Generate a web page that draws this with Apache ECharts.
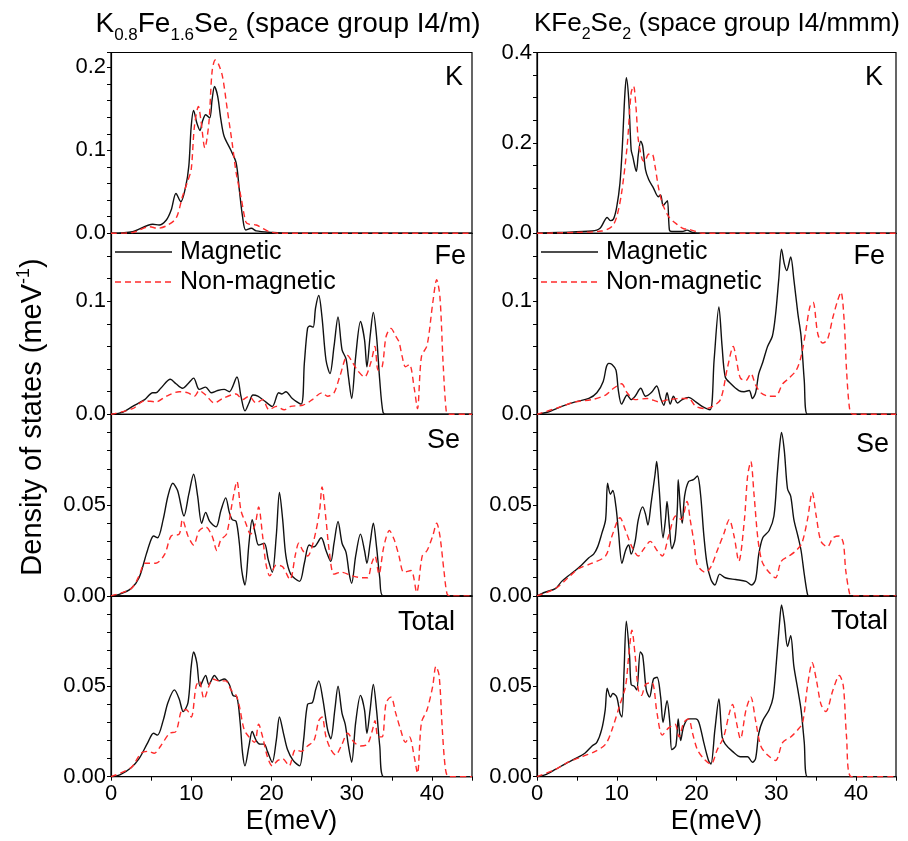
<!DOCTYPE html>
<html>
<head>
<meta charset="utf-8">
<script src="https://cdn.jsdelivr.net/npm/echarts@6/dist/echarts.min.js"></script>
<style>
  html, body { margin: 0; padding: 0; background: #fff; }
  #chart { width: 908px; height: 841px; }
</style>
</head>
<body>
<div id="chart"></div>
<script>
// Phonon density of states, magnetic vs non-magnetic, for two K-Fe-Se phases.
// Each series is a list of [E (meV), DOS (1/meV)] pairs.

// ---- K0.8Fe1.6Se2 (I4/m) ----
const leftKMag = [[0,0],[2.7,0.002],[5.2,0.011],[6.0,0.010],[6.9,0.016],[7.5,0.028],[8.1,0.048],[8.7,0.038],[9.3,0.056],[9.7,0.081],[10.0,0.129],[10.3,0.148],[10.7,0.133],[11.1,0.124],[11.4,0.135],[11.8,0.143],[12.3,0.139],[12.6,0.161],[12.9,0.177],[13.3,0.165],[13.7,0.137],[14.1,0.117],[14.9,0.101],[15.6,0.085],[16.0,0.052],[16.4,0.020],[16.8,0.004],[17.5,0.006],[18.1,0.003],[20.1,0.001],[21.8,0],[45,0]];
const leftKNon = [[0,0],[2.7,0.001],[4.8,0.008],[5.8,0.006],[6.9,0.009],[8.1,0.018],[8.9,0.044],[9.6,0.064],[10.0,0.077],[10.4,0.129],[10.9,0.153],[11.2,0.137],[11.7,0.103],[12.2,0.133],[12.6,0.195],[13.0,0.209],[13.4,0.204],[13.9,0.189],[14.5,0.149],[15.1,0.109],[15.6,0.073],[16.2,0.044],[16.8,0.014],[17.2,0.011],[18.1,0.010],[18.9,0.006],[19.7,0.002],[21.0,0],[45,0]];
const leftFeMag = [[0,0],[1.5,0.002],[2.7,0.007],[4.2,0.013],[5.2,0.019],[5.6,0.019],[6.2,0.023],[7.4,0.031],[8.1,0.027],[8.9,0.023],[9.6,0.027],[10.3,0.032],[11.0,0.022],[11.8,0.024],[12.5,0.019],[13.3,0.021],[14.1,0.022],[14.75,0.020],[15.7,0.033],[16.2,0.016],[16.7,0.003],[17.2,0.010],[17.7,0.017],[18.3,0.016],[19.1,0.012],[20.1,0.007],[20.9,0.019],[21.3,0.018],[21.8,0.020],[22.6,0.014],[23.7,0.009],[24.1,0.045],[24.5,0.076],[24.8,0.078],[25.2,0.077],[25.5,0.094],[25.9,0.105],[26.3,0.086],[26.8,0.048],[27.3,0.036],[27.8,0.060],[28.3,0.086],[28.8,0.057],[29.3,0.049],[29.6,0.033],[30.0,0.014],[30.5,0.051],[31.1,0.082],[31.6,0.066],[31.9,0.042],[32.3,0.069],[32.7,0.090],[33.1,0.069],[33.5,0.030],[33.9,0.002],[34.3,0],[45,0]];
const leftFeNon = [[0,0],[2.7,0.005],[4.2,0.012],[5.6,0.011],[6.9,0.016],[8.5,0.020],[9.6,0.019],[10.4,0.016],[11.0,0.021],[11.8,0.017],[12.9,0.010],[13.9,0.014],[15.6,0.018],[16.4,0.013],[17.2,0.016],[18.1,0.010],[18.9,0.013],[19.7,0.004],[20.6,0.007],[21.6,0.004],[22.4,0.007],[23.9,0.008],[25.1,0.013],[26.3,0.019],[27.0,0.016],[27.8,0.019],[28.5,0.033],[29.5,0.052],[30.1,0.046],[30.7,0.039],[31.6,0.033],[32.4,0.046],[32.9,0.060],[33.3,0.039],[33.8,0.042],[34.3,0.069],[34.9,0.076],[35.5,0.069],[35.9,0.064],[36.3,0.051],[36.7,0.042],[37.2,0.044],[37.8,0.023],[38.2,0.005],[38.7,0.051],[39.4,0.061],[40.1,0.098],[40.6,0.119],[41.0,0.104],[41.4,0.045],[41.8,0.002],[42.1,0],[45,0]];
const leftSeMag = [[0,0],[1.1,0.001],[2.5,0.004],[3.5,0.010],[4.4,0.023],[5.0,0.031],[5.3,0.033],[5.8,0.032],[6.5,0.042],[7.1,0.055],[7.7,0.062],[8.3,0.058],[9.1,0.044],[9.7,0.056],[10.3,0.067],[10.8,0.055],[11.3,0.040],[11.8,0.046],[12.3,0.041],[13.1,0.038],[13.7,0.047],[14.3,0.054],[14.75,0.046],[15.1,0.042],[15.6,0.041],[16.0,0.029],[16.3,0.014],[16.7,0.006],[17.2,0.029],[17.6,0.042],[18.0,0.034],[18.4,0.028],[19.1,0.029],[19.6,0.020],[20.1,0.013],[20.6,0.033],[21.0,0.057],[21.4,0.042],[21.8,0.022],[22.4,0.012],[23.5,0.008],[24.1,0.018],[24.7,0.028],[25.3,0.027],[26.2,0.032],[26.8,0.025],[27.4,0.019],[27.8,0.029],[28.3,0.041],[28.8,0.029],[29.3,0.024],[29.7,0.012],[30.0,0.007],[30.5,0.022],[31.1,0.034],[31.6,0.025],[31.9,0.018],[32.3,0.029],[32.7,0.040],[33.1,0.027],[33.5,0.010],[33.9,0],[45,0]];
const leftSeNon = [[0,0],[2.5,0.004],[3.5,0.011],[4.2,0.018],[4.8,0.018],[5.6,0.018],[6.7,0.023],[7.5,0.033],[8.5,0.034],[8.9,0.042],[9.6,0.033],[10.3,0.028],[11.0,0.036],[11.8,0.038],[12.6,0.033],[13.2,0.025],[13.7,0.031],[14.4,0.034],[15.1,0.051],[15.7,0.063],[16.2,0.047],[16.8,0.040],[17.4,0.034],[18.0,0.040],[18.4,0.049],[18.9,0.033],[19.3,0.018],[19.8,0.011],[20.6,0.017],[21.4,0.016],[22.3,0.009],[23.0,0.023],[23.4,0.029],[23.9,0.025],[24.5,0.022],[25.3,0.031],[26.0,0.047],[26.3,0.060],[26.8,0.042],[27.2,0.025],[27.8,0.012],[28.7,0.013],[30.1,0.011],[31.3,0.010],[31.97,0.010],[32.5,0.018],[32.9,0.022],[33.4,0.012],[34.0,0.027],[34.7,0.036],[35.3,0.031],[35.9,0.022],[36.5,0.013],[37.4,0.014],[38.1,0.002],[38.8,0.022],[39.4,0.025],[40.1,0.033],[40.6,0.040],[41.0,0.033],[41.5,0.014],[41.9,0.001],[42.3,0],[45,0]];
const leftTotMag = [[0,0],[1.1,0.001],[2.5,0.005],[3.5,0.010],[4.6,0.019],[5.3,0.024],[5.8,0.023],[6.5,0.031],[7.1,0.041],[7.9,0.048],[8.5,0.043],[9.0,0.036],[9.6,0.041],[10.0,0.061],[10.3,0.069],[10.7,0.063],[11.1,0.050],[11.8,0.056],[12.2,0.051],[12.9,0.056],[13.5,0.053],[14.1,0.054],[14.75,0.051],[15.2,0.045],[15.7,0.044],[16.1,0.030],[16.4,0.013],[16.7,0.006],[17.2,0.017],[17.6,0.025],[18.1,0.020],[18.6,0.018],[19.1,0.018],[19.5,0.014],[20.1,0.008],[20.6,0.020],[21.0,0.033],[21.5,0.024],[22.0,0.015],[22.7,0.009],[23.5,0.006],[24.0,0.020],[24.5,0.040],[25.1,0.041],[25.5,0.048],[25.9,0.053],[26.4,0.043],[27.0,0.026],[27.4,0.021],[27.9,0.037],[28.3,0.050],[28.8,0.035],[29.2,0.029],[29.6,0.017],[30.0,0.008],[30.5,0.030],[31.1,0.045],[31.6,0.037],[31.9,0.024],[32.3,0.037],[32.7,0.051],[33.1,0.037],[33.5,0.017],[34.0,0],[45,0]];
const leftTotNon = [[0,0],[2.5,0.005],[3.75,0.013],[4.6,0.014],[5.4,0.013],[6.2,0.017],[7.3,0.024],[8.1,0.025],[8.9,0.037],[9.4,0.037],[10.0,0.033],[10.6,0.050],[11.0,0.053],[11.6,0.043],[12.2,0.050],[12.7,0.054],[13.5,0.053],[14.3,0.053],[14.96,0.048],[15.6,0.045],[16.0,0.039],[16.6,0.026],[17.2,0.022],[17.9,0.019],[18.4,0.029],[18.9,0.022],[19.5,0.011],[20.1,0.006],[20.8,0.009],[21.4,0.010],[22.2,0.006],[23.0,0.015],[23.7,0.014],[24.5,0.017],[25.3,0.020],[25.9,0.031],[26.3,0.033],[26.8,0.022],[27.4,0.015],[28.0,0.012],[28.7,0.017],[29.5,0.024],[30.3,0.019],[31.1,0.017],[31.97,0.018],[32.6,0.026],[32.9,0.031],[33.3,0.022],[33.8,0.022],[34.3,0.041],[34.9,0.044],[35.5,0.035],[36.1,0.026],[36.7,0.019],[37.2,0.022],[37.8,0.011],[38.2,0.002],[38.7,0.030],[39.4,0.037],[40.1,0.050],[40.5,0.061],[40.9,0.056],[41.3,0.026],[41.7,0.004],[42.1,0],[45,0]];

// ---- KFe2Se2 (I4/mmm) ----
const rightKMag = [[0,0],[2.7,0.002],[6.9,0.005],[7.9,0.011],[8.8,0.035],[9.2,0.028],[9.6,0.032],[10.0,0.059],[10.4,0.111],[10.7,0.193],[11.0,0.304],[11.2,0.344],[11.5,0.296],[11.8,0.185],[12.0,0.170],[12.45,0.137],[12.7,0.174],[13.0,0.204],[13.25,0.193],[13.6,0.141],[14.0,0.119],[14.6,0.100],[15.2,0.081],[15.5,0.085],[15.8,0.061],[16.1,0.067],[16.35,0.072],[16.6,0.007],[16.9,0.004],[18.2,0.004],[18.8,0.007],[19.5,0.002],[20.7,0],[45,0]];
const rightKNon = [[0,0],[4.8,0.002],[8.1,0.005],[9.4,0.015],[10.0,0.037],[10.6,0.089],[11.3,0.193],[11.8,0.311],[12.1,0.326],[12.4,0.281],[12.7,0.207],[13.2,0.163],[13.5,0.159],[13.9,0.174],[14.4,0.176],[14.8,0.148],[15.2,0.104],[15.7,0.067],[16.5,0.037],[17.6,0.019],[18.4,0.010],[19.0,0.009],[19.9,0.004],[20.7,0],[45,0]];
const rightFeMag = [[0,0],[1.4,0.002],[3.1,0.007],[4.8,0.011],[6.5,0.014],[7.5,0.019],[8.3,0.029],[8.7,0.042],[9.0,0.045],[9.4,0.044],[9.9,0.039],[10.2,0.021],[10.6,0.009],[11.3,0.017],[11.8,0.013],[12.3,0.016],[13.0,0.023],[13.6,0.016],[14.3,0.019],[15.0,0.025],[15.5,0.014],[15.9,0.008],[16.3,0.019],[16.7,0.009],[17.1,0.016],[17.6,0.010],[18.2,0.013],[19.0,0.015],[19.9,0.011],[20.7,0.007],[21.7,0.004],[22.2,0.048],[22.8,0.095],[23.2,0.060],[23.6,0.033],[24.3,0.027],[25.3,0.021],[25.95,0.020],[26.6,0.021],[27.0,0.014],[27.4,0.019],[27.8,0.036],[28.3,0.046],[28.9,0.060],[29.5,0.069],[29.9,0.088],[30.3,0.119],[30.65,0.146],[31.0,0.133],[31.3,0.127],[31.8,0.139],[32.2,0.119],[32.7,0.089],[33.1,0.069],[33.5,0.030],[33.9,0],[45,0]];
const rightFeNon = [[0,0],[2.7,0.006],[4.8,0.011],[6.9,0.013],[8.6,0.017],[9.6,0.023],[10.6,0.027],[11.3,0.019],[12.3,0.013],[13.8,0.014],[15.3,0.011],[16.5,0.013],[18.2,0.014],[19.0,0.014],[19.9,0.007],[21.1,0.005],[22.0,0.007],[23.0,0.013],[23.9,0.042],[24.6,0.060],[25.0,0.048],[25.5,0.032],[26.2,0.030],[26.8,0.036],[27.4,0.026],[28.05,0.019],[29.1,0.016],[29.9,0.016],[30.8,0.027],[31.6,0.032],[32.5,0.039],[33.1,0.051],[33.7,0.074],[34.2,0.095],[34.6,0.099],[35.2,0.071],[35.8,0.063],[36.4,0.066],[37.1,0.086],[37.7,0.101],[38.1,0.108],[38.5,0.083],[38.8,0.039],[39.2,0.004],[39.6,0],[45,0]];
const rightSeMag = [[0,0],[1.0,0.002],[2.3,0.004],[3.1,0.008],[3.9,0.011],[4.8,0.014],[5.6,0.017],[6.5,0.021],[7.1,0.023],[7.6,0.027],[8.1,0.034],[8.6,0.042],[8.85,0.062],[9.2,0.056],[9.5,0.058],[9.9,0.049],[10.2,0.036],[10.65,0.018],[11.1,0.025],[11.5,0.028],[11.8,0.023],[12.3,0.030],[12.7,0.042],[13.25,0.049],[13.6,0.045],[13.9,0.039],[14.3,0.051],[14.8,0.067],[15.0,0.074],[15.3,0.060],[15.8,0.032],[16.1,0.042],[16.3,0.052],[16.6,0.038],[16.9,0.026],[17.3,0.031],[17.6,0.049],[17.7,0.064],[18.0,0.047],[18.2,0.040],[18.5,0.055],[19.0,0.063],[19.6,0.064],[20.1,0.066],[20.5,0.056],[20.9,0.034],[21.3,0.018],[21.8,0.009],[22.3,0.006],[22.9,0.012],[23.6,0.010],[24.9,0.009],[26.2,0.008],[26.9,0.006],[27.4,0.009],[27.8,0.023],[28.3,0.032],[29.1,0.036],[29.7,0.044],[30.1,0.066],[30.4,0.082],[30.65,0.090],[31.0,0.080],[31.4,0.059],[31.8,0.055],[32.2,0.042],[32.7,0.033],[33.1,0.025],[33.5,0.012],[33.9,0.001],[34.1,0],[45,0]];
const rightSeNon = [[0,0],[2.3,0.004],[3.9,0.010],[5.2,0.015],[6.9,0.018],[8.6,0.022],[9.4,0.033],[10.4,0.043],[11.1,0.036],[11.9,0.027],[12.7,0.022],[13.4,0.026],[14.2,0.030],[15.05,0.025],[15.7,0.022],[16.5,0.033],[17.4,0.044],[18.1,0.042],[18.8,0.052],[19.2,0.042],[19.7,0.029],[20.1,0.017],[21.1,0.013],[21.8,0.016],[22.6,0.025],[23.4,0.034],[24.1,0.042],[24.7,0.033],[25.3,0.019],[26.0,0.042],[26.4,0.066],[26.8,0.074],[27.2,0.056],[27.7,0.031],[28.2,0.019],[28.9,0.014],[29.9,0.010],[30.6,0.019],[31.6,0.022],[32.5,0.025],[33.2,0.029],[33.9,0.042],[34.5,0.057],[35.0,0.044],[35.6,0.030],[36.4,0.027],[37.1,0.032],[37.9,0.033],[38.4,0.029],[38.7,0.014],[39.2,0.001],[39.5,0],[45,0]];
const rightTotMag = [[0,0],[1.0,0.001],[2.3,0.004],[3.5,0.007],[4.8,0.010],[6.0,0.013],[6.9,0.017],[7.5,0.019],[8.1,0.026],[8.55,0.037],[8.8,0.049],[9.2,0.044],[9.5,0.046],[10.0,0.044],[10.4,0.035],[10.65,0.033],[10.9,0.057],[11.2,0.086],[11.6,0.067],[11.8,0.051],[12.2,0.050],[12.5,0.048],[12.95,0.069],[13.25,0.067],[13.7,0.048],[14.1,0.044],[14.6,0.054],[15.05,0.055],[15.5,0.044],[15.8,0.030],[16.3,0.042],[16.65,0.030],[16.9,0.015],[17.4,0.017],[17.7,0.032],[18.0,0.020],[18.4,0.028],[19.0,0.032],[19.9,0.032],[20.3,0.030],[20.9,0.019],[21.5,0.009],[21.8,0.007],[22.3,0.026],[22.8,0.043],[23.2,0.022],[23.6,0.018],[24.5,0.014],[25.5,0.011],[26.4,0.011],[27.0,0.008],[27.4,0.010],[27.8,0.024],[28.3,0.031],[29.1,0.037],[29.6,0.044],[30.0,0.063],[30.4,0.085],[30.65,0.095],[31.0,0.086],[31.4,0.072],[31.8,0.078],[32.2,0.061],[32.7,0.048],[33.1,0.037],[33.5,0.019],[33.9,0],[45,0]];
const rightTotNon = [[0,0],[2.3,0.004],[3.9,0.008],[5.6,0.011],[7.3,0.014],[8.6,0.018],[9.4,0.026],[10.4,0.040],[11.1,0.050],[11.5,0.067],[11.9,0.081],[12.3,0.067],[12.7,0.048],[13.1,0.045],[13.6,0.051],[14.4,0.052],[15.05,0.035],[15.7,0.023],[16.5,0.027],[17.3,0.029],[17.8,0.022],[18.4,0.030],[19.0,0.032],[19.5,0.024],[20.1,0.015],[20.9,0.010],[21.8,0.007],[22.6,0.015],[23.4,0.022],[24.1,0.035],[24.5,0.040],[25.0,0.030],[25.5,0.021],[26.2,0.037],[26.8,0.044],[27.4,0.031],[28.05,0.017],[28.9,0.012],[29.9,0.009],[30.8,0.019],[31.8,0.022],[32.7,0.026],[33.3,0.030],[33.9,0.050],[34.5,0.063],[35.0,0.054],[35.6,0.040],[36.2,0.036],[37.1,0.048],[37.9,0.056],[38.4,0.050],[38.8,0.022],[39.4,0],[45,0]];

// ---- labels and axis ranges ----
const panelNames = ['K', 'Fe', 'Se', 'Total'];
const seriesNames = ['Magnetic', 'Non-magnetic'];
const energyMax = 45;
const energyStep = 5;
const energyLabelStep = 10;
const yMaxes = [[0.218, 0.16, 0.1, 0.1], [0.4, 0.16, 0.1, 0.1]];
const yMajor = [[0.1, 0.1, 0.05, 0.05], [0.2, 0.1, 0.05, 0.05]];
const yMinor = [[0.02, 0.02, 0.01, 0.01], [0.05, 0.02, 0.01, 0.01]];
const yDecimals = [1, 1, 2, 2];
const yTopLabel = [true, false, false, false];

const columnData = [
  [[leftKMag, leftKNon], [leftFeMag, leftFeNon], [leftSeMag, leftSeNon], [leftTotMag, leftTotNon]],
  [[rightKMag, rightKNon], [rightFeMag, rightFeNon], [rightSeMag, rightSeNon], [rightTotMag, rightTotNon]]
];

// ---- layout ----
const FONT = '"Liberation Sans", Arial, Helvetica, sans-serif';
const colLeft = [111, 537];
const colWidth = [361, 359];
const rowEdges = [52.5, 233.3, 414.3, 595.9, 776.7];
const panelLabelRight = [[9, 6, 12, 17], [13, 11, 7, 8]];
const panelLabelDy = [[25, 23, 26, 27], [25, 23, 30, 26]];

const grids = [], xAxes = [], yAxes = [], series = [], graphics = [];
const lineColors = ['#111111', '#ff2b2b'];

for (let c = 0; c < 2; c++) {
  for (let r = 0; r < 4; r++) {
    const idx = c * 4 + r;
    const isBottom = r === 3;
    const top = rowEdges[r];
    const height = rowEdges[r + 1] - rowEdges[r];
    grids.push({
      left: colLeft[c], top: top, width: colWidth[c], height: height,
      show: true, borderColor: '#000', borderWidth: 1.2,
      backgroundColor: 'rgba(0,0,0,0)', containLabel: false, outerBoundsMode: 'none'
    });
    xAxes.push({
      type: 'value', gridIndex: idx, min: 0, max: energyMax, interval: energyStep,
      axisLine: { show: true, lineStyle: { color: '#000', width: 1.2 } },
      axisTick: { show: isBottom, length: 4, lineStyle: { color: '#000' } },
      axisLabel: {
        show: isBottom, margin: 6, fontSize: 22, color: '#000', fontFamily: FONT,
        formatter: v => (Math.abs(v % energyLabelStep) < 1e-9 ? String(v) : '')
      },
      splitLine: { show: false },
      name: isBottom ? 'E(meV)' : '', nameLocation: 'middle', nameGap: 31,
      nameTextStyle: { fontSize: 27, color: '#000', fontFamily: FONT }
    });
    const yMax = yMaxes[c][r], major = yMajor[c][r];
    yAxes.push({
      type: 'value', gridIndex: idx, min: 0, max: yMax, interval: yMinor[c][r],
      axisLine: { show: true, lineStyle: { color: '#000', width: 1.2 } },
      axisTick: { show: true, length: 4, lineStyle: { color: '#000' } },
      axisLabel: {
        margin: 5, fontSize: 22, color: '#000', fontFamily: FONT,
        formatter: v => {
          const k = v / major;
          if (Math.abs(k - Math.round(k)) > 1e-6) return '';
          if (!yTopLabel[r] && v > yMax - 1e-9) return '';
          return v.toFixed(yDecimals[r]);
        }
      },
      splitLine: { show: false }
    });
    for (let s = 0; s < 2; s++) {
      series.push({
        name: seriesNames[s], type: 'line', xAxisIndex: idx, yAxisIndex: idx,
        data: columnData[c][r][s], symbol: 'none', smooth: 0.3, silent: true,
        lineStyle: { color: lineColors[s], width: 1.4, type: s === 0 ? 'solid' : [6, 4] },
        z: 2 + s
      });
    }
    // panel tag in the top-right corner
    graphics.push({
      type: 'text', x: colLeft[c] + colWidth[c] - panelLabelRight[c][r], y: top + panelLabelDy[c][r],
      style: { text: panelNames[r], fontSize: 27, fontFamily: FONT, fill: '#000', align: 'right', verticalAlign: 'middle' },
      z: 10
    });
  }
  // legend inside the Fe panel
  const lx = colLeft[c] + 4;
  const legendY = [252, 282];
  for (let s = 0; s < 2; s++) {
    graphics.push({
      type: 'line', shape: { x1: lx, y1: legendY[s], x2: lx + 57, y2: legendY[s] },
      style: { stroke: lineColors[s], lineWidth: 1.4, lineDash: s === 0 ? null : [6, 4] }, z: 10
    });
    graphics.push({
      type: 'text', x: lx + 65, y: legendY[s],
      style: { text: seriesNames[s], fontSize: 25, fontFamily: FONT, fill: '#000', align: 'left', verticalAlign: 'middle' },
      z: 10
    });
  }
}

// column titles with chemical subscripts
function titleRich(main, sub, drop) {
  return {
    m: { fontSize: main, fontFamily: FONT, lineHeight: main + 4, verticalAlign: 'top', fill: '#000' },
    s: { fontSize: sub, fontFamily: FONT, lineHeight: sub + 1, padding: [drop, 0, 0, 0], verticalAlign: 'top', fill: '#000' }
  };
}
graphics.push({
  type: 'text', x: 288, y: 10,
  style: { text: '{m|K}{s|0.8}{m|Fe}{s|1.6}{m|Se}{s|2}{m| (space group I4/m)}', rich: titleRich(28, 17, 17), align: 'center', verticalAlign: 'top' }
});
graphics.push({
  type: 'text', x: 717, y: 11,
  style: { text: '{m|KFe}{s|2}{m|Se}{s|2}{m| (space group I4/mmm)}', rich: titleRich(26, 16, 16), align: 'center', verticalAlign: 'top' }
});

// shared y-axis title
graphics.push({
  type: 'text', x: 31, y: 417, rotation: Math.PI / 2,
  style: {
    text: '{m|Density of states (meV}{p|-1}{m|)}', align: 'center', verticalAlign: 'middle',
    rich: {
      m: { fontSize: 29, fontFamily: FONT, lineHeight: 32, verticalAlign: 'bottom', fill: '#000' },
      p: { fontSize: 18, fontFamily: FONT, lineHeight: 19, verticalAlign: 'top', fill: '#000' }
    }
  }
});

const chart = echarts.init(document.getElementById('chart'), null, { renderer: 'canvas' });
chart.setOption({
  animation: false,
  backgroundColor: '#fff',
  grid: grids,
  xAxis: xAxes,
  yAxis: yAxes,
  series: series,
  graphic: graphics
});
</script>
</body>
</html>
